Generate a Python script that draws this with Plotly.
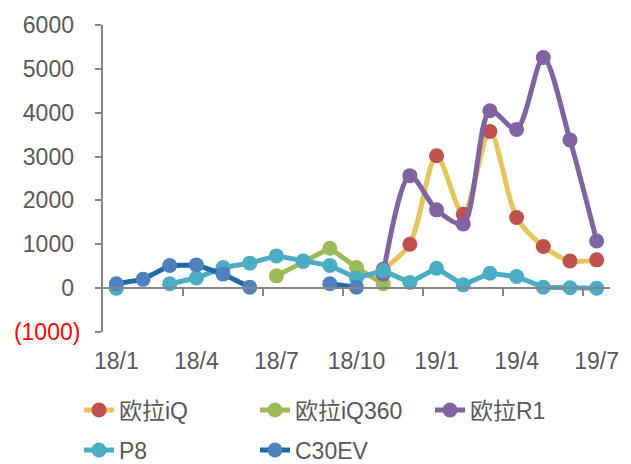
import plotly.graph_objects as go

months = ["18/1", "18/2", "18/3", "18/4", "18/5", "18/6", "18/7", "18/8", "18/9", "18/10",
          "18/11", "18/12", "19/1", "19/2", "19/3", "19/4", "19/5", "19/6", "19/7"]
tick_labels = ["18/1", "18/4", "18/7", "18/10", "19/1", "19/4", "19/7"]
y_ticks = [-1000, 0, 1000, 2000, 3000, 4000, 5000, 6000]
y_tick_text = ['<span style="color:#FF0000">(1000)</span>', "0\u00a0", "1000\u00a0", "2000\u00a0",
               "3000\u00a0", "4000\u00a0", "5000\u00a0", "6000\u00a0"]

N = None
ola_iq = [N, N, N, N, N, N, N, N, N, N, 430, 1000, 3020, 1685, 3570, 1610, 950, 620, 645]
ola_iq360 = [N, N, N, N, N, N, 280, 605, 910, 470, 100, N, N, N, N, N, N, N, N]
ola_r1 = [N, N, N, N, N, N, N, N, N, N, 320, 2565, 1785, 1465, 4045, 3620, 5260, 3380, 1075]
p8 = [0, N, 100, 230, 470, 570, 735, 620, 515, 230, 400, 130, 455, 75, 340, 265, 20, 10, 0]
c30ev = [100, 200, 515, 530, 320, 20, N, N, 100, 20, N, N, N, N, N, N, N, N, N]

series = [
    ("欧拉iQ", ola_iq, "#E8C55C", "#C0504D", "spline"),
    ("欧拉iQ360", ola_iq360, "#9BBB59", "#9BBB59", "linear"),
    ("欧拉R1", ola_r1, "#8064A2", "#8064A2", "spline"),
    ("P8", p8, "#4BACC6", "#4BACC6", "linear"),
    ("C30EV", c30ev, "#1F6AA5", "#4F81BD", "linear"),
]
legend_ids = ["legend", "legend2", "legend3", "legend4", "legend5"]
# legend text left edge (px) and row centre (px)
legend_pos = [(119, 410), (295, 410), (470, 410), (119, 450), (295, 450)]

xi = list(range(len(months)))
fig = go.Figure()
for (name, vals, lc, mc, shape), lg in zip(series, legend_ids):
    fig.add_trace(go.Scatter(
        x=xi, y=vals, name=name, mode="lines+markers",
        line=dict(color=lc, width=5, shape=shape, smoothing=0.8),
        marker=dict(color=mc, size=15),
        connectgaps=False, legend=lg, hovertext=months,
    ))

# invisible trace to hold the zero-crossing category axis
fig.add_trace(go.Scatter(x=[None], y=[None], xaxis="x2", showlegend=False, hoverinfo="skip"))

font_family = "Liberation Sans, Arial, Noto Sans CJK SC, sans-serif"
W, H = 631, 464
layout = dict(
    template="none",
    width=W, height=H,
    margin=dict(l=103, r=21, t=25, b=132, autoexpand=False),
    paper_bgcolor="white", plot_bgcolor="white",
    font=dict(family=font_family, size=23, color="#595959"),
    xaxis=dict(
        range=[-0.5, 18.5], tickmode="array", automargin=False,
        tickvals=[months.index(t) for t in tick_labels], ticktext=tick_labels,
        ticks="", showline=False, showgrid=False, zeroline=False,
        ticklabelstandoff=13,
        tickfont=dict(size=23, color="#595959"),
    ),
    xaxis2=dict(
        overlaying="x", matches="x", anchor="free", position=1 / 7, side="bottom",
        automargin=False,
        showline=True, linecolor="#868686", linewidth=2,
        tickmode="array", tickvals=[2.5, 5.5, 8.5, 11.5, 14.5, 17.5],
        ticks="outside", ticklen=7, tickwidth=2, tickcolor="#868686",
        showticklabels=False, showgrid=False, zeroline=False,
    ),
    yaxis=dict(
        range=[-1000, 6000], tickmode="array", tickvals=y_ticks, ticktext=y_tick_text,
        automargin=False,
        ticks="outside", ticklen=6, tickwidth=2, tickcolor="#868686",
        showline=True, linecolor="#868686", linewidth=2,
        showgrid=False, zeroline=False, ticklabelstandoff=10,
        tickfont=dict(size=23, color="#595959"),
    ),
    showlegend=True,
)
for lg, (tx, ty) in zip(legend_ids, legend_pos):
    layout[lg] = dict(
        orientation="h", xref="container", yref="container",
        x=(tx - 40) / W, y=1 - ty / H, xanchor="left", yanchor="middle",
        font=dict(size=23, color="#595959"), bgcolor="rgba(0,0,0,0)",
        borderwidth=0,
    )
fig.update_layout(**layout)

fig.write_html("out.html", config={"displayModeBar": False},
               post_script="document.body.style.margin='0';document.body.style.padding='0';")
